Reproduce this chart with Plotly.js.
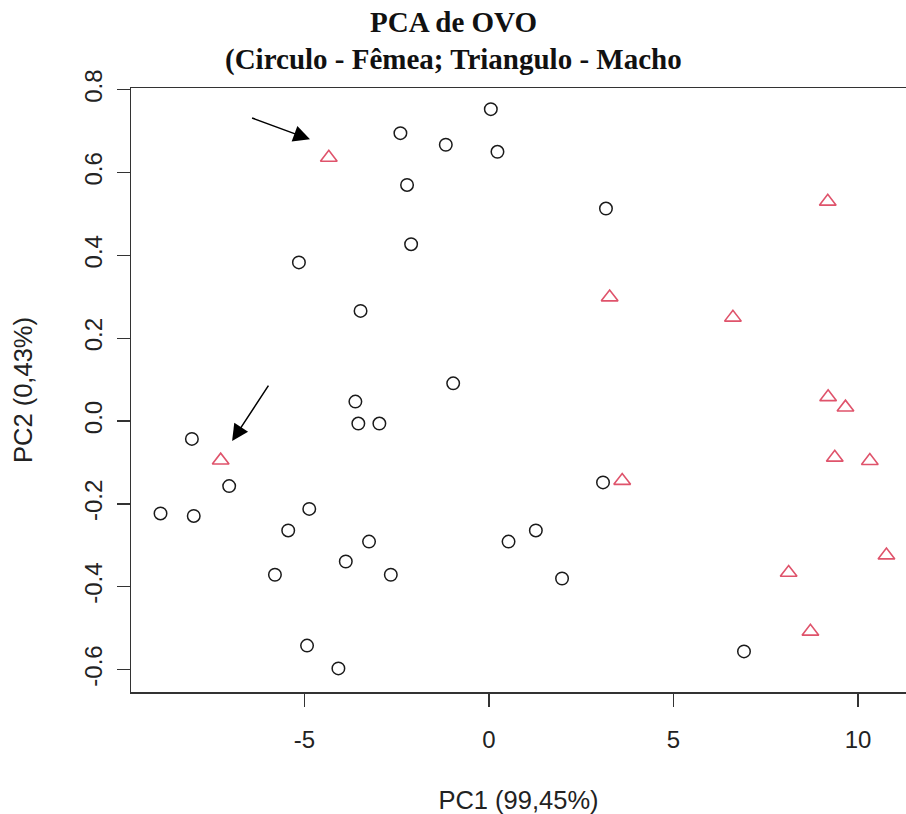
<!DOCTYPE html>
<html>
<head>
<meta charset="utf-8">
<script src="https://cdn.plot.ly/plotly-3.0.1.min.js"></script>
<style>html,body{margin:0;padding:0;background:#fff;}#chart{width:906px;height:814px;}</style>
</head>
<body>
<div id="chart"></div>
<script>
// Fêmea (circles)
const femeaPC1 = [0.05, -2.40, -1.17, 0.23, -2.22, 3.17, -2.11, -5.15, -3.48, -0.97,
                  -3.62, -3.54, -2.97, -8.05, -7.04, -8.90, -8.00, -4.87, -5.44, -3.25,
                  0.53, -3.88, -5.80, -2.66, -4.93, -4.08, 3.09, 1.27, 1.98, 6.91];
const femeaPC2 = [0.753, 0.695, 0.667, 0.650, 0.570, 0.513, 0.427, 0.383, 0.266, 0.091,
                  0.047, -0.006, -0.006, -0.043, -0.157, -0.223, -0.229, -0.212, -0.264, -0.291,
                  -0.291, -0.339, -0.371, -0.371, -0.542, -0.597, -0.148, -0.264, -0.380, -0.556];
// Macho (triangles)
const machoPC1 = [-4.34, 9.18, 3.27, 6.61, 9.19, 9.66, 9.37, 10.32, 3.61, -7.27, 10.77, 8.12, 8.71];
const machoPC2 = [0.636, 0.530, 0.299, 0.250, 0.058, 0.033, -0.088, -0.096, -0.144, -0.095, -0.324, -0.366, -0.508];

const xTickVals = [-5, 0, 5, 10];
const xTickText = ["-5", "0", "5", "10"];
const yTickVals = [0.8, 0.6, 0.4, 0.2, 0.0, -0.2, -0.4, -0.6];
const yTickText = ["0.8", "0.6", "0.4", "0.2", "0.0", "-0.2", "-0.4", "-0.6"];

// arrows: [tipX, tipY, tailX, tailY]
const arrow1 = [-4.85, 0.680, -6.46, 0.733];
const arrow2 = [-6.96, -0.048, -5.95, 0.089];

const titleLine1 = "PCA de OVO";
const titleLine2 = "(Circulo - Fêmea; Triangulo - Macho";
const xTitle = "PC1 (99,45%)";
const yTitle = "PC2 (0,43%)";

const traces = [
  {x: femeaPC1, y: femeaPC2, type: 'scatter', mode: 'markers', name: 'Fêmea',
   marker: {symbol: 'circle-open', size: 12.5, color: '#1a1a1a', line: {width: 1.5, color: '#1a1a1a'}}},
  {x: machoPC1, y: machoPC2, type: 'scatter', mode: 'markers', name: 'Macho',
   marker: {symbol: 'triangle-up-open', size: 14.5, color: '#DF536B', line: {width: 1.6, color: '#DF536B'}}}
];

function arrowAnn(a) {
  return {x: a[0], y: a[1], ax: a[2], ay: a[3], xref: 'x', yref: 'y', axref: 'x', ayref: 'y',
          text: '', showarrow: true, arrowhead: 2, arrowsize: 2.2, arrowwidth: 1.5, arrowcolor: '#000'};
}

const serif = 'Liberation Serif, Times New Roman, serif';
const sans = 'Liberation Sans, Arial, sans-serif';

const layout = {
  width: 906, height: 814,
  margin: {l: 131, r: 0, t: 88, b: 122},
  paper_bgcolor: '#fff', plot_bgcolor: '#fff',
  showlegend: false,
  xaxis: {
    range: [-9.70, 11.30], tickmode: 'array', tickvals: xTickVals, ticktext: xTickText,
    showgrid: false, zeroline: false, showline: true, mirror: true, linecolor: '#333', linewidth: 1.5,
    ticks: 'outside', ticklen: 13, tickwidth: 1.3, tickcolor: '#333',
    tickfont: {family: sans, size: 24, color: '#222'}, ticklabelstandoff: 13,
    title: {text: xTitle, font: {family: sans, size: 25.5, color: '#222'}, standoff: 42}
  },
  yaxis: {
    range: [-0.654, 0.804], tickmode: 'array', tickvals: yTickVals, ticktext: yTickText,
    showgrid: false, zeroline: false, showline: true, mirror: false, linecolor: '#333', linewidth: 1.5,
    ticks: 'outside', ticklen: 13, tickwidth: 1.3, tickcolor: '#333', tickangle: -90,
    tickfont: {family: sans, size: 24, color: '#222'}, ticklabelstandoff: 5,
    title: {text: yTitle, font: {family: sans, size: 25.5, color: '#222'}, standoff: 40}
  },
  annotations: [
    {text: '<b>' + titleLine1 + '</b>', xref: 'paper', yref: 'paper', x: (453 - 131) / 775, y: 1.109,
     xanchor: 'center', yanchor: 'middle', showarrow: false, font: {family: serif, size: 29, color: '#111'}},
    {text: '<b>' + titleLine2 + '</b>', xref: 'paper', yref: 'paper', x: (453 - 131) / 775, y: 1.047,
     xanchor: 'center', yanchor: 'middle', showarrow: false, font: {family: serif, size: 29, color: '#111'}},
    arrowAnn(arrow1), arrowAnn(arrow2)
  ]
};

Plotly.newPlot('chart', traces, layout, {displayModeBar: false, staticPlot: true});
</script>
</body>
</html>
